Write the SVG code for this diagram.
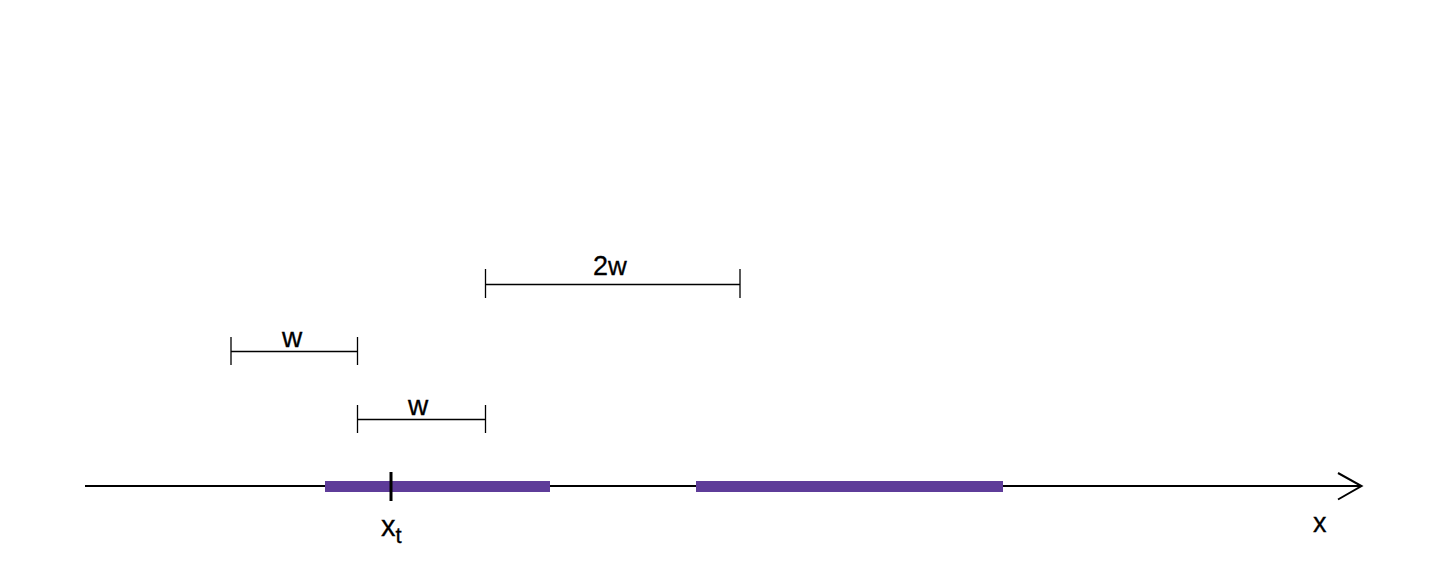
<svg xmlns="http://www.w3.org/2000/svg" width="1440" height="576" viewBox="0 0 1440 576">
<style>
.axis{stroke:#000;stroke-width:2;fill:none}
.bar{fill:#5E3C99}
.dim{stroke:#000;stroke-width:1.3;fill:none}
.lbl{font-family:"Liberation Sans",Arial,sans-serif;fill:#000;stroke:#000;stroke-width:0.3}
</style>
<rect width="1440" height="576" fill="#fff"/>
<g id="connectors">
<line class="axis" x1="85" y1="486" x2="1361" y2="486"/>
<polyline class="axis" points="1338,473 1361.5,486 1338,499.5"/>
</g>
<g id="interval1"><rect class="bar" x="325" y="481" width="225" height="11"/></g>
<g id="interval2"><rect class="bar" x="696" y="481" width="307" height="11"/></g>
<g id="xt">
<line x1="391" y1="472" x2="391" y2="501" stroke="#000" stroke-width="3"/>
<text class="lbl" x="381" y="536" font-size="29">x<tspan font-size="22" dy="7">t</tspan></text>
</g>
<g id="xlabel"><text class="lbl" x="1313" y="532" font-size="27">x</text></g>
<g id="dim2w">
<path class="dim" d="M485.5,269V298M485.5,284.5H740M740,269V298"/>
<text class="lbl" x="593" y="275" font-size="26"><tspan font-size="27">2</tspan>w</text>
</g>
<g id="dimw1">
<path class="dim" d="M231,337V365M231,351.5H357.5M357.5,337V365"/>
<text class="lbl" x="282" y="347" font-size="28">w</text>
</g>
<g id="dimw2">
<path class="dim" d="M357.5,405V433M357.5,419.5H485.5M485.5,405V433"/>
<text class="lbl" x="408" y="414.5" font-size="28">w</text>
</g>
</svg>
